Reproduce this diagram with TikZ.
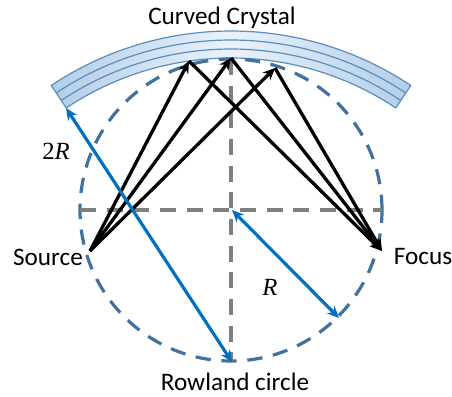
\documentclass[tikz,border=0pt]{standalone}
\usepackage{fontspec}
\setmainfont{Carlito}
\newfontfamily\mathish{Liberation Serif}
\usetikzlibrary{arrows.meta}
\definecolor{rimblue}{HTML}{5B8DB8}
\definecolor{circblue}{HTML}{41719C}
\definecolor{arrowblue}{HTML}{0070C0}
\definecolor{dashgrey}{HTML}{7F7F7F}
\definecolor{crysdark}{HTML}{B2CEE8}
\definecolor{cryslight}{HTML}{EAF2FB}
\tikzset{
  px/.style={line width=#1*0.75pt},
  rimline/.style={draw=rimblue,px=1.2},
  rowland/.style={draw=circblue,px=3.2,dash pattern=on 11.5pt off 8pt},
  guide/.style={draw=dashgrey,px=3.4,dash pattern=on 12pt off 8pt},
  ray/.style={draw=black,px=3.3,-{Stealth[length=9pt,width=8pt]}},
  span/.style={draw=arrowblue,px=3.2,{Stealth[length=9pt,width=8pt]}-{Stealth[length=9pt,width=8pt]}},
  lab/.style={font=\fontsize{18.9pt}{22pt}\selectfont,inner sep=0pt,anchor=base},
  mlab/.style={font=\fontsize{18.5pt}{22pt}\selectfont\mathish,inner sep=0pt,anchor=base}
}
\begin{document}
\begin{tikzpicture}[x=0.75pt,y=-0.75pt]
\useasboundingbox (0,0) rectangle (452,396);
% crystal
\def\amax{33.7}
\path[shade,left color=crysdark,right color=crysdark,middle color=cryslight]
  plot[domain=-\amax:\amax,samples=60] ({231+324*sin(\x)},{355-324*cos(\x)})
  -- plot[domain=\amax:-\amax,samples=60] ({231+297*sin(\x)},{355-297*cos(\x)}) -- cycle;
\draw[rimline,line join=round]
  plot[domain=-\amax:\amax,samples=60] ({231+324*sin(\x)},{355-324*cos(\x)})
  -- plot[domain=\amax:-\amax,samples=60] ({231+297*sin(\x)},{355-297*cos(\x)}) -- cycle;
\draw[rimline] plot[domain=-\amax:\amax,samples=60] ({231+315*sin(\x)},{355-315*cos(\x)});
\draw[rimline] plot[domain=-\amax:\amax,samples=60] ({231+306*sin(\x)},{355-306*cos(\x)});
% circle
\coordinate (cen) at (231,210);
\draw[rowland] (cen) circle[radius=151*0.75pt];
% guides
\coordinate (gl) at (80,210);
\coordinate (gr) at (382,210);
\coordinate (gt) at (231,59);
\coordinate (gb) at (231,361);
\draw[guide] (gl) -- (gr);
\draw[guide] (gt) -- (gb);
% rays
\coordinate (src) at (90,251);
\coordinate (foc) at (382,251);
\coordinate (p1) at (189,61);
\coordinate (p2) at (231,58);
\coordinate (p3) at (275,68);
\foreach \p in {p1,p2,p3}{
  \draw[ray] (src) -- (\p);
  \draw[ray] (\p) -- (foc);
}
% blue
\coordinate (b1) at (66,108);
\coordinate (b2) at (232,362);
\coordinate (b3) at (232,210);
\coordinate (b4) at (339,318);
\draw[span] (b1) -- (b2);
\draw[span] (b3) -- (b4);
% labels
\node[lab] (title) at (222,24) {Curved Crystal};
\node[lab] (source) at (48,265) {Source};
\node[lab] (focus) at (423,264) {Focus};
\node[lab] (rowlandlab) at (235,390) {Rowland circle};
\node[mlab] (tworlab) at (56,159) {2{\itshape R}};
\node[mlab] (rlab) at (270,295) {\itshape R};
\end{tikzpicture}
\end{document}
